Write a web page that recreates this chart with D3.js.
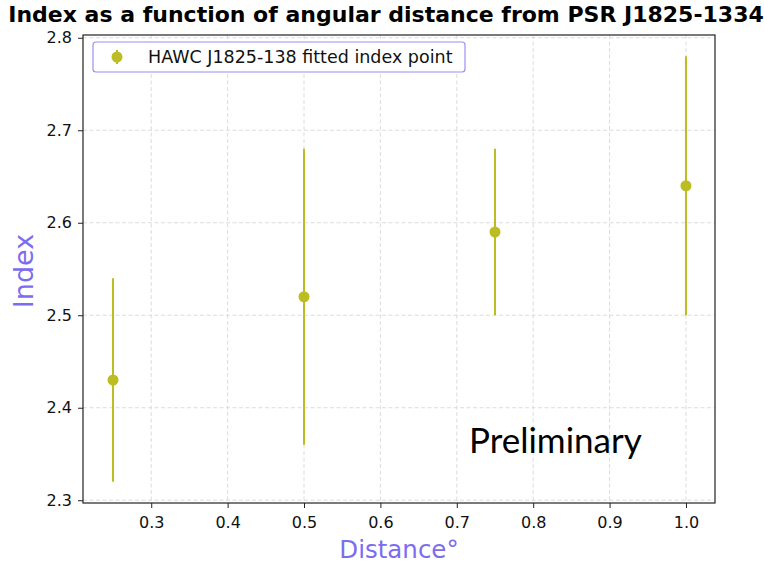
<!DOCTYPE html>
<html><head><meta charset="utf-8">
<script src="https://cdn.jsdelivr.net/npm/d3@7"></script>
<style>body{margin:0;background:#fff}svg{display:block}</style>
</head><body>
<svg id="c" width="764" height="565"></svg>
<script>
const distances = [0.25, 0.5, 0.75, 1.0];
const indexValues = [2.43, 2.52, 2.59, 2.64];
const errLow = [2.32, 2.36, 2.50, 2.50];
const errHigh = [2.54, 2.68, 2.68, 2.78];
const xTicks = [0.3, 0.4, 0.5, 0.6, 0.7, 0.8, 0.9, 1.0];
const yTicks = [2.3, 2.4, 2.5, 2.6, 2.7, 2.8];

const svg = d3.select("#c");
const m = {l: 83, r: 715, t: 35, b: 503};
const x = d3.scaleLinear().domain([0.2107, 1.038]).range([m.l, m.r]);
const y = d3.scaleLinear().domain([2.297, 2.803]).range([m.b, m.t]);
const col = "#bcbd22", lab = "#7b6cf0";
const font = "DejaVu Sans, sans-serif";

// grid
const g = svg.append("g");
g.selectAll(".gx").data(xTicks).join("line").attr("x1", d => x(d)).attr("x2", d => x(d))
  .attr("y1", m.t).attr("y2", m.b).attr("stroke", "#d8d8d8").attr("stroke-dasharray", "4,2.5").attr("stroke-width", 0.9);
g.selectAll(".gy").data(yTicks).join("line").attr("y1", d => y(d)).attr("y2", d => y(d))
  .attr("x1", m.l).attr("x2", m.r).attr("stroke", "#d8d8d8").attr("stroke-dasharray", "4,2.5").attr("stroke-width", 0.9);

// axes
const xa = svg.append("g").attr("transform", `translate(0,${m.b})`)
  .call(d3.axisBottom(x).tickValues(xTicks).tickFormat(d3.format(".1f")).tickSize(5).tickPadding(9));
const ya = svg.append("g").attr("transform", `translate(${m.l},0)`)
  .call(d3.axisLeft(y).tickValues(yTicks).tickFormat(d3.format(".1f")).tickSize(5).tickPadding(6));
[xa, ya].forEach(a => {
  a.select(".domain").remove();
  a.selectAll("text").attr("font-family", font).attr("font-size", 16).attr("fill", "#111");
  a.selectAll("line").attr("stroke", "#222");
});

// frame
svg.append("rect").attr("x", m.l).attr("y", m.t).attr("width", m.r - m.l).attr("height", m.b - m.t)
  .attr("fill", "none").attr("stroke", "#222").attr("stroke-width", 1.2);

// error bars
const pts = distances.map((d, i) => ({x: d, y: indexValues[i], lo: errLow[i], hi: errHigh[i]}));
svg.selectAll(".eb").data(pts).join("line").attr("x1", d => x(d.x)).attr("x2", d => x(d.x))
  .attr("y1", d => y(d.lo)).attr("y2", d => y(d.hi)).attr("stroke", col).attr("stroke-width", 2);
svg.selectAll(".pt").data(pts).join("circle").attr("cx", d => x(d.x)).attr("cy", d => y(d.y))
  .attr("r", 5.5).attr("fill", col);

// legend
svg.append("rect").attr("x", 93).attr("y", 42).attr("width", 372).attr("height", 30).attr("rx", 3)
  .attr("fill", "#fff").attr("stroke", "#9b90f2").attr("stroke-width", 1.2);
svg.append("line").attr("x1", 117).attr("x2", 117).attr("y1", 50).attr("y2", 64).attr("stroke", col).attr("stroke-width", 2);
svg.append("circle").attr("cx", 117).attr("cy", 57).attr("r", 5.5).attr("fill", col);
svg.append("text").attr("x", 148).attr("y", 63).attr("font-family", font).attr("font-size", 17.5)
  .attr("fill", "#111").text("HAWC J1825-138 fitted index point");

// title
svg.append("text").attr("x", 386).attr("y", 22).attr("text-anchor", "middle").attr("font-family", font)
  .attr("font-weight", "bold").attr("font-size", 22).attr("fill", "#000")
  .text("Index as a function of angular distance from PSR J1825-1334");

// axis labels
svg.append("text").attr("x", 399).attr("y", 558).attr("text-anchor", "middle").attr("font-family", font)
  .attr("font-size", 24.5).attr("fill", lab).text("Distance°");
svg.append("text").attr("transform", "translate(33,271) rotate(-90)").attr("text-anchor", "middle")
  .attr("font-family", font).attr("font-size", 27).attr("fill", lab).text("Index");

// preliminary
svg.append("text").attr("x", 469).attr("y", 453).attr("font-family", "Lato, sans-serif")
  .attr("font-size", 35).attr("fill", "#000").text("Preliminary");
</script>
</body></html>
